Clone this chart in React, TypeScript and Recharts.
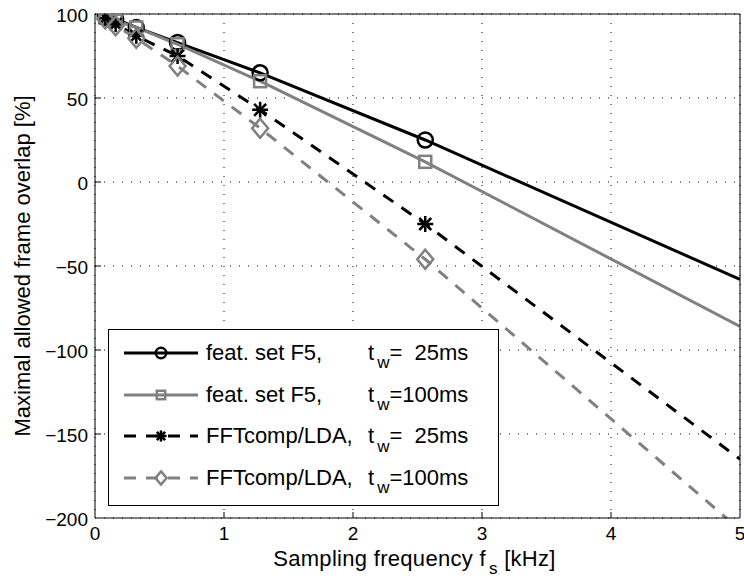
import React from 'react';
import { LineChart, Line, XAxis, YAxis, CartesianGrid, Legend } from 'recharts';

// ---- data ----
const fsKHz = [0.08, 0.16, 0.32, 0.64, 1.28, 2.56, 5];
const featF5_25ms = [98.5, 97, 92, 83, 65, 25, -58];
const featF5_100ms = [98, 96, 92, 82, 60, 12, -86];
const fftLda_25ms = [97.5, 94, 87, 75, 43, -25, -165];
const fftLda_100ms = [97, 93, 85.5, 69, 32, -46, -207];
const xTicks = [0, 1, 2, 3, 4, 5];
const yTicks = [-200, -150, -100, -50, 0, 50, 100];
const seriesNames = ['feat. set F5,', 'feat. set F5,', 'FFTcomp/LDA,', 'FFTcomp/LDA,'];
const windowLabels = ['=  25ms', '=100ms', '=  25ms', '=100ms'];

const FONT = '"Liberation Sans", Arial, Helvetica, sans-serif';
const GRAY = '#808080';
const DASH = '12 10';

const data = fsKHz.map((x, i) => ({
  x,
  a: featF5_25ms[i],
  b: featF5_100ms[i],
  c: fftLda_25ms[i],
  d: fftLda_100ms[i],
}));

type Kind = 'circle' | 'square' | 'star' | 'diamond';

const series: { key: string; kind: Kind; color: string; dash?: string }[] = [
  { key: 'a', kind: 'circle', color: '#000' },
  { key: 'b', kind: 'square', color: GRAY },
  { key: 'c', kind: 'star', color: '#000', dash: DASH },
  { key: 'd', kind: 'diamond', color: GRAY, dash: DASH },
];

function marker(kind: Kind, cx: number, cy: number, s: number, color: string, key?: string) {
  const sw = 2.5;
  if (kind === 'circle')
    return <circle key={key} cx={cx} cy={cy} r={7.5 * s} fill="none" stroke={color} strokeWidth={sw} />;
  if (kind === 'square')
    return (
      <rect key={key} x={cx - 6 * s} y={cy - 6 * s} width={12 * s} height={12 * s} fill="none" stroke={color} strokeWidth={sw} />
    );
  if (kind === 'diamond')
    return (
      <polygon
        key={key}
        points={`${cx},${cy - 9.5 * s} ${cx + 8 * s},${cy} ${cx},${cy + 9.5 * s} ${cx - 8 * s},${cy}`}
        fill="none"
        stroke={color}
        strokeWidth={sw}
      />
    );
  const a = 8 * s;
  const d = 6 * s;
  return (
    <g key={key} stroke={color} strokeWidth={sw} strokeLinecap="butt">
      <line x1={cx - a} y1={cy} x2={cx + a} y2={cy} />
      <line x1={cx} y1={cy - a} x2={cx} y2={cy + a} />
      <line x1={cx - d} y1={cy - d} x2={cx + d} y2={cy + d} />
      <line x1={cx - d} y1={cy + d} x2={cx + d} y2={cy - d} />
    </g>
  );
}

const makeDot = (kind: Kind, color: string) => (props: any) => {
  const { cx, cy, index } = props;
  if (index === fsKHz.length - 1 || cx == null || cy == null) return <g key={`e-${index}`} />;
  return marker(kind, cx, cy, 1, color, `m-${index}`);
};

const fmt = (v: number) => (v < 0 ? `\u2212${Math.abs(v)}` : `${v}`);

const XTick = (props: any) => {
  const { x, y, payload } = props;
  const v = payload.value;
  const edge = v === xTicks[0] || v === xTicks[xTicks.length - 1];
  return (
    <g>
      {!edge && <line x1={x} y1={y} x2={x} y2={y - 6} stroke="#000" strokeWidth={1} />}
      <text x={x} y={y + 22} textAnchor="middle" fontSize={19} fontFamily={FONT} fill="#000">
        {fmt(v)}
      </text>
    </g>
  );
};

const YTick = (props: any) => {
  const { x, y, payload } = props;
  const v = payload.value;
  const edge = v === yTicks[0] || v === yTicks[yTicks.length - 1];
  return (
    <g>
      {!edge && <line x1={x} y1={y} x2={x + 6} y2={y} stroke="#000" strokeWidth={1} />}
      <text x={x - 7} y={y + 1} dy="0.35em" textAnchor="end" fontSize={19} fontFamily={FONT} fill="#000">
        {fmt(v)}
      </text>
    </g>
  );
};

const XTitle = (props: any) => {
  const vb = props.viewBox || { x: 95, y: 518, width: 645, height: 64 };
  const cx = vb.x + vb.width / 2;
  return (
    <text x={cx - 3} y={vb.y + 48} textAnchor="middle" fontSize={22} fontFamily={FONT} fill="#000" letterSpacing={0.3}>
      Sampling frequency f
      <tspan dx={3} dy={8} fontSize={17}>s</tspan>
      <tspan dy={-8}> [kHz]</tspan>
    </text>
  );
};

const YTitle = (props: any) => {
  const vb = props.viewBox || { x: 0, y: 14, width: 95, height: 504 };
  const cx = vb.x + 22;
  const cy = vb.y + vb.height / 2;
  return (
    <text
      x={cx}
      y={cy}
      dy="0.35em"
      textAnchor="middle"
      fontSize={22}
      fontFamily={FONT}
      fill="#000"
      transform={`rotate(-90 ${cx} ${cy})`}
    >
      Maximal allowed frame overlap [%]
    </text>
  );
};

const LegendBox = () => (
  <div
    style={{
      width: 391,
      height: 177,
      border: '1px solid #000',
      background: '#fff',
      boxSizing: 'border-box',
      paddingTop: 2,
      fontFamily: FONT,
      fontSize: 22,
      color: '#000',
    }}
  >
    {series.map((s, i) => (
      <div key={s.key} style={{ height: 41.7, display: 'flex', alignItems: 'center', position: 'relative' }}>
        <svg width={95} height={40} style={{ display: 'block', flex: 'none' }}>
          <line x1={15} y1={20} x2={89} y2={20} stroke={s.color} strokeWidth={3} strokeDasharray={s.dash} />
          {marker(s.kind, 52, 20, 0.7, s.color)}
        </svg>
        <span style={{ whiteSpace: 'pre', width: 162, flex: 'none', marginLeft: 2 }}>{seriesNames[i]}</span>
        <span style={{ whiteSpace: 'pre' }}>
          t<sub style={{ fontSize: 17, verticalAlign: '-0.5em', lineHeight: 0, marginLeft: 3 }}>w</sub>
          {windowLabels[i]}
        </span>
      </div>
    ))}
  </div>
);

export default function App() {
  return (
    <div style={{ position: 'absolute', left: 0, top: 0, width: 744, height: 582, background: '#fff' }}>
      <LineChart width={744} height={582} data={data} margin={{ top: 14, right: 4, bottom: 0, left: 0 }}>
        <CartesianGrid stroke="#000" strokeWidth={1} strokeDasharray="1 8" />
        <XAxis
          xAxisId={0}
          dataKey="x"
          type="number"
          domain={[0, 5]}
          ticks={xTicks}
          allowDataOverflow
          height={64}
          tickSize={0}
          tickMargin={0}
          tick={<XTick />}
          axisLine={{ stroke: '#000', strokeWidth: 1 }}
          tickLine={false}
          label={<XTitle />}
        />
        <XAxis
          xAxisId="top"
          orientation="top"
          mirror
          dataKey="x"
          type="number"
          domain={[0, 5]}
          ticks={xTicks}
          allowDataOverflow
          height={1}
          tick={false}
          tickSize={6}
          tickLine={{ stroke: '#000' }}
          axisLine={{ stroke: '#000', strokeWidth: 1 }}
        />
        <YAxis
          yAxisId={0}
          type="number"
          domain={[-200, 100]}
          ticks={yTicks}
          allowDataOverflow
          width={95}
          tickSize={0}
          tickMargin={0}
          tick={<YTick />}
          axisLine={{ stroke: '#000', strokeWidth: 1 }}
          tickLine={false}
          label={<YTitle />}
        />
        <YAxis
          yAxisId="right"
          orientation="right"
          mirror
          type="number"
          domain={[-200, 100]}
          ticks={yTicks}
          allowDataOverflow
          width={1}
          tick={false}
          tickSize={6}
          tickLine={{ stroke: '#000' }}
          axisLine={{ stroke: '#000', strokeWidth: 1 }}
        />
        {series.map((s) => (
          <Line
            key={s.key}
            xAxisId={0}
            yAxisId={0}
            type="linear"
            dataKey={s.key}
            stroke={s.color}
            strokeWidth={3}
            strokeDasharray={s.dash}
            dot={makeDot(s.kind, s.color)}
            activeDot={false}
            isAnimationActive={false}
          />
        ))}
        <Legend
          layout="horizontal"
          verticalAlign="middle"
          align="center"
          content={<LegendBox />}
          wrapperStyle={{ position: 'absolute', left: 108, top: 329, width: 391, height: 177 }}
        />
      </LineChart>
    </div>
  );
}
